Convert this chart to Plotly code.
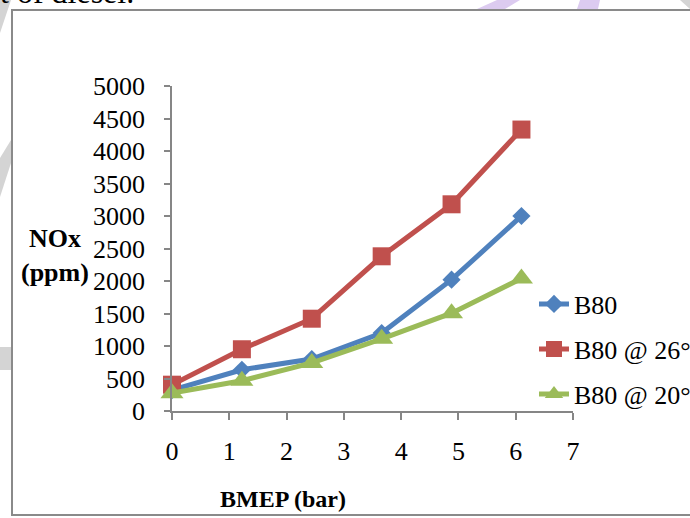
import plotly.graph_objects as go

# ---- data ----
bmep = [0, 1.22, 2.44, 3.66, 4.88, 6.10]
nox_b80 = [320, 635, 800, 1200, 2020, 3000]
nox_b80_26 = [405, 950, 1420, 2380, 3180, 4330]
nox_b80_20 = [275, 465, 740, 1110, 1505, 2040]
series_names = ["B80", "B80 @ 26°", "B80 @ 20°"]
x_ticks = [0, 1, 2, 3, 4, 5, 6, 7]
y_ticks = [0, 500, 1000, 1500, 2000, 2500, 3000, 3500, 4000, 4500, 5000]

W, H = 690, 518
L, R, T, B = 172, 573, 86, 411  # plot area in pixels


def px(x):
    return (x - L) / (R - L)


def py(y):
    return (B - y) / (B - T)


SERIF = "Liberation Serif"
AXIS_GREY = "#868686"

fig = go.Figure()
styles = [
    dict(color="#4F81BD", symbol="diamond", size=14),
    dict(color="#C0504D", symbol="square", size=18),
    dict(color="#9BBB59", symbol="triangle-up", size=20),
]
legends = ["legend", "legend2", "legend3"]
for name, ys, st, lg in zip(series_names, [nox_b80, nox_b80_26, nox_b80_20], styles, legends):
    fig.add_trace(go.Scatter(
        x=bmep, y=ys, name=name, mode="lines+markers",
        line=dict(color=st["color"], width=5),
        marker=dict(color=st["color"], symbol=st["symbol"], size=st["size"], line=dict(width=0)),
        legend=lg, cliponaxis=False,
    ))

leg_common = dict(font=dict(family=SERIF, size=26, color="black"), bgcolor="rgba(0,0,0,0)",
                  xanchor="left", yanchor="middle", borderwidth=0, itemwidth=30)
leg_x = px(534)

fig.update_layout(
    width=W, height=H,
    margin=dict(l=L, r=W - R, t=T, b=H - B, pad=0, autoexpand=False),
    paper_bgcolor="white", plot_bgcolor="white",
    showlegend=True,
    legend=dict(x=leg_x, y=py(304), **leg_common),
    legend2=dict(x=leg_x, y=py(349), **leg_common),
    legend3=dict(x=leg_x, y=py(394), **leg_common),
    xaxis=dict(range=[0, 7], tickvals=x_ticks, ticktext=[str(v) for v in x_ticks],
               showgrid=False, zeroline=False, showline=True, linecolor=AXIS_GREY, linewidth=1.5,
               ticks="outside", ticklen=7, tickwidth=1.5, tickcolor=AXIS_GREY,
               ticklabelstandoff=9,
               tickfont=dict(family=SERIF, size=26, color="black")),
    yaxis=dict(range=[0, 5000], tickvals=y_ticks, ticktext=[str(v) for v in y_ticks],
               showgrid=False, zeroline=False, showline=True, linecolor=AXIS_GREY, linewidth=1.5,
               ticks="outside", ticklen=6, tickwidth=1.5, tickcolor=AXIS_GREY,
               ticklabelstandoff=14,
               tickfont=dict(family=SERIF, size=26, color="black")),
)

# chart frame and page decorations
shapes = [
    dict(type="rect", xref="paper", yref="paper", x0=px(12), x1=px(705), y0=py(515), y1=py(10),
         line=dict(color="#8A8A8A", width=2), fillcolor="rgba(0,0,0,0)", layer="below"),
]


def poly(points, color):
    d = "M " + " L ".join(f"{px(a):.5f},{py(b):.5f}" for a, b in points) + " Z"
    return dict(type="path", xref="paper", yref="paper", path=d, fillcolor=color,
                line=dict(width=0), layer="below")


shapes += [
    poly([(0, 0), (11, 0), (0, 33)], "#D4D4D4"),
    poly([(11, 140), (11, 163), (0, 197), (0, 158)], "#D4D4D4"),
    poly([(0, 347), (11, 347), (11, 370), (0, 370)], "#D4D4D4"),
    poly([(497, 0), (520, 0), (505, 9), (477, 9)], "#DCCBF0"),
    poly([(580, 0), (600, 0), (598, 9), (577, 9)], "#DCCBF0"),
    poly([(680, 0), (690, 0), (690, 9)], "#D4D4D4"),
]
fig.update_layout(shapes=shapes)

fig.add_annotation(text="<b>NOx</b><br><b>(ppm)</b>", xref="paper", yref="paper",
                   x=px(55), y=py(256), xanchor="center", yanchor="middle", showarrow=False,
                   font=dict(family=SERIF, size=26, color="black"))
fig.add_annotation(text="<b>BMEP (bar)</b>", xref="paper", yref="paper",
                   x=px(283), y=py(499), xanchor="center", yanchor="middle", showarrow=False,
                   font=dict(family=SERIF, size=24, color="black"))
fig.add_annotation(text="nt of diesel.", xref="paper", yref="paper",
                   x=px(136), y=py(-8), xanchor="right", yanchor="middle", showarrow=False,
                   font=dict(family=SERIF, size=32, color="black"))

fig.write_html("out.html")
